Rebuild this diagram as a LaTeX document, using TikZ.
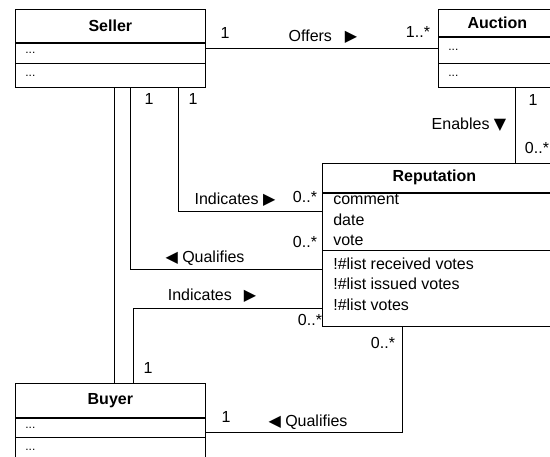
\documentclass[tikz,border=0pt]{standalone}
\usepackage{fontspec}
\setmainfont{Liberation Sans}
\newfontfamily\symfont{DejaVu Sans}
\usetikzlibrary{positioning}

\tikzset{
  classtitle/.style={draw, anchor=north west, inner sep=0pt, font=\fontsize{16}{19}\selectfont\bfseries},
  compart/.style={draw, anchor=north west, inner xsep=10pt, inner ysep=0pt, align=left, font=\fontsize{12}{14}\selectfont},
  lbl/.style={inner sep=0pt},
  rows/.style={inner sep=0pt, anchor=north west, align=left, font=\fontsize{16}{20.5}\selectfont}
}
\newcommand{\rtri}{{\symfont\fontsize{16}{16}\selectfont ▶}}
\newcommand{\ltri}{{\symfont\fontsize{16}{16}\selectfont ◀}}
\newcommand{\dtri}{{\symfont\fontsize{16}{16}\selectfont ▼}}

\begin{document}
\begin{tikzpicture}[x=1pt, y=-1pt, line width=0.7pt, font=\fontsize{16}{19}\selectfont]
	\useasboundingbox (0,0) rectangle (550,457);
	\clip (0,0) rectangle (550,457);

	% Seller class
	\node[classtitle, minimum width=190pt, minimum height=33pt] (seller) at (15,9) {Seller};
	\node[compart, text width=170pt, minimum height=20pt] (seller attr) at (seller.south west) {...};
	\node[compart, text width=170pt, minimum height=24pt] (seller ops) at (seller attr.south west) {...};

	% Auction class
	\node[classtitle, minimum width=150pt, minimum height=27pt] (auction) at (438,9) {\hspace*{-32pt}Auction};
	\node[compart, text width=130pt, minimum height=26pt] (auction attr) at (auction.south west) {...};
	\node[compart, text width=130pt, minimum height=24pt] (auction ops) at (auction attr.south west) {...};

	% Reputation class
	\node[classtitle, minimum width=250pt, minimum height=29pt] (reputation) at (322,163) {\hspace*{-26pt}Reputation};
	\node[compart, minimum width=250pt, minimum height=57pt] (reputation attr) at (reputation.south west) {};
	\node[compart, minimum width=250pt, minimum height=76pt] (reputation ops) at (reputation attr.south west) {};
	\node[rows] (rep attr txt) at ([xshift=11pt, yshift=-1.5pt]reputation attr.north west) {comment\\date\\vote};
	\node[rows] (rep ops txt) at ([xshift=11pt, yshift=-7pt]reputation ops.north west) {!\#list received votes\\!\#list issued votes\\!\#list votes};

	% Buyer class
	\node[classtitle, minimum width=190pt, minimum height=34pt] (buyer) at (15,383) {Buyer};
	\node[compart, text width=170pt, minimum height=19pt] (buyer attr) at (buyer.south west) {...};
	\node[compart, text width=170pt, minimum height=24pt] (buyer ops) at (buyer attr.south west) {...};

	% Associations
	\draw ([yshift=5pt]seller attr.east) -- ([yshift=5pt]seller attr.east -| auction attr.west);
	\draw ([xshift=77pt]auction ops.south west) -- ([xshift=77pt]auction ops.south west |- reputation.north);
	\draw ([xshift=163pt]seller ops.south west) |- ([yshift=10.5pt]reputation attr.west);
	\draw ([xshift=115pt]seller ops.south west) |- ([yshift=19pt]reputation ops.west);
	\draw ([xshift=99pt]seller ops.south west) -- ([xshift=99pt]seller ops.south west |- buyer.north);
	\draw ([xshift=118pt]buyer.north west) |- ([yshift=-20pt]reputation ops.west);
	\draw ([xshift=80pt]reputation ops.south west) |- ([yshift=-4.5pt]buyer attr.east);

	% Role names and multiplicities
	\node[lbl] (offers m1) at (225,33) {1};
	\node[lbl] (offers lbl) at (323,37) {Offers\hspace{13pt}\rtri};
	\node[lbl] (offers m2) at (418,32) {1..*};

	\node[lbl] (enables m1) at (533,100) {1};
	\node[lbl] (enables lbl) at (469,125) {Enables \dtri};
	\node[lbl] (enables m2) at (537,148) {0..*};

	\node[lbl] (s ind m1) at (193,99) {1};
	\node[lbl] (s ind lbl) at (235,200) {Indicates \rtri};
	\node[lbl] (s ind m2) at (305,197) {0..*};

	\node[lbl] (s qual m1) at (149,99) {1};
	\node[lbl] (s qual lbl) at (205,258) {\ltri\ Qualifies};
	\node[lbl] (s qual m2) at (305,242) {0..*};

	\node[lbl] (b ind m1) at (148,368) {1};
	\node[lbl] (b ind lbl) at (212,296) {Indicates\hspace{12pt}\rtri};
	\node[lbl] (b ind m2) at (310,320) {0..*};

	\node[lbl] (b qual m1) at (226,417) {1};
	\node[lbl] (b qual lbl) at (308,422) {\ltri\ Qualifies};
	\node[lbl] (b qual m2) at (383,343) {0..*};
\end{tikzpicture}
\end{document}
